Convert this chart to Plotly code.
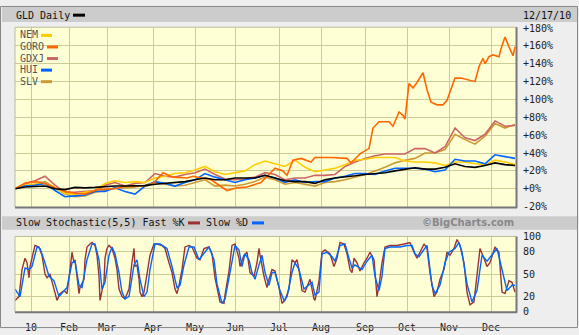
import plotly.graph_objects as go

W, H = 579, 335

# ---- axis data -------------------------------------------------------------
# x is a trading-day index: 0 = first session of January 2010
month_days = [0, 19, 38, 61, 82, 102, 124, 145, 167, 188, 209, 230]
month_labels = ["10", "Feb", "Mar", "Apr", "May", "Jun", "Jul", "Aug", "Sep", "Oct", "Nov", "Dec"]
pct_ticks = [-20, 0, 20, 40, 60, 80, 100, 120, 140, 160, 180]
pct_labels = ["-20%", "+0%", "+20%", "+40%", "+60%", "+80%", "+100%", "+120%", "+140%", "+160%", "+180%"]
stoch_ticks = [0, 20, 50, 80, 100]

# ---- price performance (% change), sampled every 5 sessions -----------------
grid_days = list(range(-8, 243, 5))
gld = [0, 2, 2.5, 3, 0, -1, 1.5, 1, 1.5, 2.5, 3, 3, 3, 3.5, 5, 6, 7, 8, 10, 12,
       10, 10, 12, 12, 12, 15, 12, 9, 8, 8, 6, 10, 12, 13, 14.5, 16, 17, 18, 20, 22,
       23.5, 22, 22, 24, 28, 25, 24, 26, 29, 27, 26]
nem = [0, 4, 5, 6, 1, -5, -6, -4, -2, 6, 9, 7, 8, 7, 12, 14, 17, 18, 21, 25,
       19, 16, 18, 20, 27, 31, 28, 25, 32, 24, 19, 21, 23, 27, 32, 33, 35, 35, 35, 31,
       30, 30, 29, 26, 30, 30, 28, 27, 32, 30, 27]
gdxj = [0, 6, 9, 14, 4, -4, -4, -3, -2, 4, 7, 3, 6, 7, 17, 14, 13, 16, 18, 22,
        16, 11, 10, 11, 13, 18, 16, 10, 12, 12, 15, 15, 16, 25, 30, 34, 37, 39, 39, 39,
        45, 45, 40, 47, 68, 57, 54, 61, 76, 70, 71]
hui = [0, 3, 4, 6, -2, -9, -8, -7, -3, -3, 1, -3, -6, 3, 8, 6, 3, 7, 10, 17,
       13, 10, 7, 10, 12, 15, 12, 7, 10, 7, 8, 8, 12, 14, 17, 17, 16, 20, 23, 23,
       23, 22, 19, 21, 33, 31, 31, 28, 38, 36, 34]
slv = [0, 3, 5, 8, 1, -6, -9, -8, -4, -2, 1, 1, 2, 4, 7, 5, 3, 4, 7, 10,
       3, 4, 3, 5, 8, 13, 10, 5, 7, 5, 3, 7, 8, 10, 13, 16, 20, 24, 29, 32,
       34, 40, 40, 44, 61, 55, 50, 59, 73, 68, 72]

# GORO moves fast, so it keeps its own turning points
goro_days = [-8, -3, 2, 5, 8, 12, 17, 22, 27, 33, 42, 47, 58, 62, 66, 71, 78, 81, 90, 95,
             98, 103, 108, 115, 120, 122, 126, 128, 131, 135, 140, 142, 150, 158, 160, 165,
             169, 171, 174, 179, 181, 184, 186, 187, 189, 191, 193, 196, 198, 200, 203,
             206, 208, 211, 212, 215, 218, 222, 224, 226, 227, 229, 231, 234, 235, 237,
             239, 241, 242]
goro = [0, 6, 8, 7, 5, 1, -3, -5, -6, -1, 0, 3, 3, 8, 18, 13, 12, 14, 10, 2,
        -2, 1, 2, 7, 18, 23, 20, 15, 32, 34, 30, 35, 35, 34, 29, 40,
        45, 68, 75, 75, 70, 86, 82, 78, 118, 113, 119, 130, 111, 97, 94,
        94, 99, 117, 124, 124, 122, 120, 137, 146, 140, 148, 150, 148, 157, 170,
        159, 149, 159]

# ---- slow stochastic (5,5) ---------------------------------------------------
k_days = [-8, -6, -4.5, -3, -2, -1, -0.5, 1.5, 2, 4, 5.5, 7, 8, 9.5, 11.5, 13, 14.5, 16.5, 18, 19,
          19.5, 20.5, 21.5, 22, 23, 24, 24.5, 25.5, 26.5, 27, 28, 29.5, 30.5, 32, 33, 34, 34.5,
          35.5, 36.5, 37, 38, 39, 40.5, 42, 43, 44, 45.5, 47, 49, 50.5, 51.5, 52, 53, 54, 54.5,
          55.5, 56.5, 58, 59.5, 61.5, 63, 65.5, 67, 69, 70.5, 72, 73, 74, 75.5, 77, 79, 80.5,
          83, 84.5, 86.5, 89, 90.5, 92, 94, 94.5, 96.5, 97, 99, 100.5, 102, 104, 104.5, 106.5,
          108, 109, 109.5, 111.5, 113, 114, 114.5, 116.5, 118, 119, 120.5, 122, 124, 125.5, 127,
          129, 130.5, 132, 133, 134, 135.5, 137, 139.5, 141.5, 142, 144, 145.5, 147, 149.5,
          151.5, 153, 154.5, 156.5, 158, 159.5, 160.5, 161.5, 163, 164.5, 166.5, 168, 169.5,
          171.5, 173, 174, 175.5, 177, 179.5, 183, 186.5, 189.5, 191.5, 193, 194.5, 196.5, 198,
          199.5, 201.5, 203, 204.5, 206.5, 208, 209.5, 211.5, 213, 214.5, 216.5, 218, 219.5,
          221.5, 223, 224.5, 226.5, 228, 229.5, 232, 234, 235.5, 237, 239, 240.5, 242]
k_vals = [15, 20, 56, 71, 65, 45, 60, 84, 88, 86, 75, 50, 45, 50, 30, 15, 24, 28, 24, 43,
          56, 79, 65, 69, 47, 24, 32, 37, 43, 69, 86, 90, 92, 88, 75, 47, 15,
          28, 39, 71, 84, 88, 84, 71, 56, 30, 20, 17, 30, 66, 84, 60, 62, 43, 26,
          20, 26, 50, 75, 90, 90, 88, 84, 65, 52, 30, 24, 35, 56, 86, 88, 86,
          71, 69, 84, 86, 77, 45, 22, 13, 11, 22, 54, 88, 90, 71, 60, 75,
          79, 62, 52, 47, 65, 84, 75, 47, 32, 43, 56, 54, 32, 11, 15,
          30, 69, 65, 69, 56, 28, 26, 43, 17, 15, 41, 79, 82, 77,
          60, 71, 92, 90, 77, 56, 52, 71, 65, 54, 65, 71, 79,
          69, 20, 35, 65, 86, 88, 88, 90, 92, 79, 71, 79, 90, 84,
          52, 20, 26, 43, 56, 79, 75, 84, 96, 88, 65, 26, 9,
          13, 47, 84, 71, 60, 65, 86, 79, 26, 24, 41, 39, 26]
d_days = [-8, -5.5, -3, -1, 0.5, 3, 4.5, 6.5, 9, 11.5, 14, 16.5, 18, 20.5, 22, 24, 25.5, 28,
          30.5, 32, 34, 35.5, 37, 39, 40.5, 42, 44, 45.5, 47, 49, 51.5, 53, 54.5, 56.5, 58,
          59.5, 62, 64.5, 68, 70.5, 73, 74.5, 76.5, 79, 81.5, 84, 86.5, 89, 91.5, 93, 95.5,
          97, 99.5, 102, 104, 105.5, 107, 109, 110.5, 112, 114, 115.5, 117, 119, 120.5, 122,
          124.5, 126.5, 128, 130.5, 132, 134, 136.5, 139, 140.5, 142, 144, 145.5, 148, 150.5,
          152, 154.5, 157, 159, 160.5, 162, 165.5, 168, 170.5, 172, 174, 175.5, 177, 179.5,
          184.5, 188, 190.5, 192, 194, 195.5, 198, 200.5, 202, 204.5, 207, 209, 212, 214,
          215.5, 218, 220.5, 223, 225.5, 228, 230.5, 233, 235.5, 238, 240.5, 242]
d_vals = [30, 20, 58, 56, 60, 86, 84, 69, 47, 41, 20, 28, 32, 65, 67, 35, 32, 69,
          90, 90, 69, 30, 39, 75, 86, 77, 52, 26, 17, 20, 62, 69, 43, 20, 26,
          56, 90, 90, 84, 60, 32, 35, 62, 86, 86, 69, 77, 86, 69, 37, 11,
          17, 52, 88, 82, 60, 77, 69, 52, 43, 62, 75, 52, 35, 52, 52,
          28, 15, 20, 52, 65, 56, 30, 35, 39, 22, 26, 77, 79, 73,
          67, 88, 90, 71, 58, 62, 56, 67, 75, 47, 28, 47, 84, 86,
          86, 88, 88, 77, 73, 79, 88, 35, 24, 35, 65, 79, 84, 92,
          79, 37, 13, 28, 75, 67, 75, 84, 56, 28, 35, 35]

# ---- styling -----------------------------------------------------------------
MONO = "DejaVu Sans Mono"
GRID = "#CCCC99"
PLOT_BG = "#FFFFD6"
HEADER = "#CCCCCC"
PAGE = "#EEEEEE"

colors = {"GLD": "#000000", "NEM": "#FFCC00", "GORO": "#FF6600",
          "GDXJ": "#CC6666", "HUI": "#0066FF", "SLV": "#CC9933"}


def px(x):
    return x / W


def py(y):
    return 1 - y / H


fig = go.Figure()

series = [("SLV", grid_days, slv), ("GDXJ", grid_days, gdxj), ("NEM", grid_days, nem),
          ("HUI", grid_days, hui), ("GORO", goro_days, goro), ("GLD", grid_days, gld)]
for name, xs, ys in series:
    fig.add_trace(go.Scatter(x=xs, y=ys, mode="lines", name=name,
                             line=dict(color=colors[name], width=1.6),
                             xaxis="x", yaxis="y"))

fig.add_trace(go.Scatter(x=k_days, y=k_vals, mode="lines", name="Fast %K",
                         line=dict(color="#993333", width=1.4), xaxis="x2", yaxis="y2"))
fig.add_trace(go.Scatter(x=d_days, y=d_vals, mode="lines", name="Slow %D",
                         line=dict(color="#0066FF", width=1.4), xaxis="x2", yaxis="y2"))

x_dom = [px(15), px(516)]
main_dom = [py(208.5), py(22)]
stoch_dom = [py(317), py(239)]
xr = [-8, 242.5]

axis_font = dict(family=MONO, size=10, color="#222222")

fig.update_layout(
    width=W, height=H,
    margin=dict(l=0, r=0, t=0, b=0),
    paper_bgcolor=PAGE,
    plot_bgcolor=PLOT_BG,
    showlegend=False,
    xaxis=dict(domain=x_dom, anchor="y", range=xr, tickvals=month_days,
               showticklabels=False, ticks="", showgrid=True, gridcolor=GRID,
               gridwidth=1, zeroline=False, showline=False, fixedrange=True),
    xaxis2=dict(domain=x_dom, anchor="y2", range=xr, tickvals=month_days,
                ticktext=month_labels, tickfont=axis_font, ticks="outside",
                ticklen=6, tickcolor="rgba(0,0,0,0)", showgrid=True, gridcolor=GRID,
                gridwidth=1, zeroline=False, showline=False),
    yaxis=dict(domain=main_dom, anchor="x", range=[-20.5, 181], side="right",
               tickvals=pct_ticks, ticktext=pct_labels, tickfont=axis_font,
               ticks="outside", ticklen=4, tickcolor="rgba(0,0,0,0)",
               showgrid=True, gridcolor=GRID, gridwidth=1, zeroline=False,
               showline=False),
    yaxis2=dict(domain=stoch_dom, anchor="x2", range=[0, 100], side="right",
                tickvals=stoch_ticks, tickfont=axis_font,
                ticks="outside", ticklen=4, tickcolor="rgba(0,0,0,0)",
                showgrid=True, gridcolor=GRID, gridwidth=1, zeroline=False,
                showline=False),
)

shapes = []
# header bars
shapes.append(dict(type="rect", xref="paper", yref="paper", x0=px(2), x1=px(578),
                   y0=py(16.5), y1=py(1), fillcolor=HEADER, line=dict(width=0), layer="below"))
shapes.append(dict(type="rect", xref="paper", yref="paper", x0=px(2), x1=px(577),
                   y0=py(232), y1=py(218), fillcolor=HEADER, line=dict(width=0), layer="below"))

# panel frames: light top/left, dark bottom/right
for top, bot in [(22, 208.5), (239, 317)]:
    shapes.append(dict(type="line", xref="paper", yref="paper", x0=px(15), x1=px(516),
                       y0=py(top), y1=py(top), line=dict(color="#BBBB99", width=1)))
    shapes.append(dict(type="line", xref="paper", yref="paper", x0=px(15), x1=px(15),
                       y0=py(top), y1=py(bot), line=dict(color="#BBBB99", width=1)))
    shapes.append(dict(type="line", xref="paper", yref="paper", x0=px(15), x1=px(517),
                       y0=py(bot + 0.5), y1=py(bot + 0.5), line=dict(color="#777777", width=2)))
    shapes.append(dict(type="line", xref="paper", yref="paper", x0=px(516.5), x1=px(516.5),
                       y0=py(top), y1=py(bot + 1), line=dict(color="#777777", width=2)))

# outer frame
shapes.append(dict(type="rect", xref="paper", yref="paper", x0=px(0.5), x1=px(577.5),
                   y0=py(333.5), y1=py(0.5), line=dict(color="#888888", width=1)))

# legend swatches
swatches = [("GLD", 73, 85, 9.5), ("NEM", 41, 52, 30.5), ("GORO", 47, 58, 42.5),
            ("GDXJ", 47, 58, 54.5), ("HUI", 41, 52, 66.5), ("SLV", 41, 52, 78.5)]
for name, x0, x1, y in swatches:
    shapes.append(dict(type="line", xref="paper", yref="paper", x0=px(x0), x1=px(x1),
                       y0=py(y), y1=py(y), line=dict(color=colors[name], width=3)))
for col, x0, x1 in [("#993333", 188, 200), ("#0066FF", 252, 264)]:
    shapes.append(dict(type="line", xref="paper", yref="paper", x0=px(x0), x1=px(x1),
                       y0=py(225), y1=py(225), line=dict(color=col, width=3)))

fig.update_layout(shapes=shapes)

annotations = []


def label(text, x, y, anchor="left", color="#222222", family=MONO, size=10, bold=False):
    annotations.append(dict(text=f"<b>{text}</b>" if bold else text,
                            xref="paper", yref="paper", x=px(x), y=py(y),
                            xanchor=anchor, yanchor="middle", showarrow=False,
                            font=dict(family=family, size=size, color=color)))


label("GLD Daily", 14, 9.5, color="#111111")
label("12/17/10", 573, 9.5, anchor="right", color="#111111")
for name, y in [("NEM", 30), ("GORO", 42), ("GDXJ", 54), ("HUI", 66), ("SLV", 78)]:
    label(name, 18, y, color="#555555")
label("Slow Stochastic(5,5) Fast %K", 14, 225, color="#111111")
label("Slow %D", 204, 225, color="#111111")
label("©BigCharts.com", 516, 225, anchor="right", color="#888888",
      family="DejaVu Sans", size=10, bold=True)

fig.update_layout(annotations=annotations)

fig.write_html("out.html")
